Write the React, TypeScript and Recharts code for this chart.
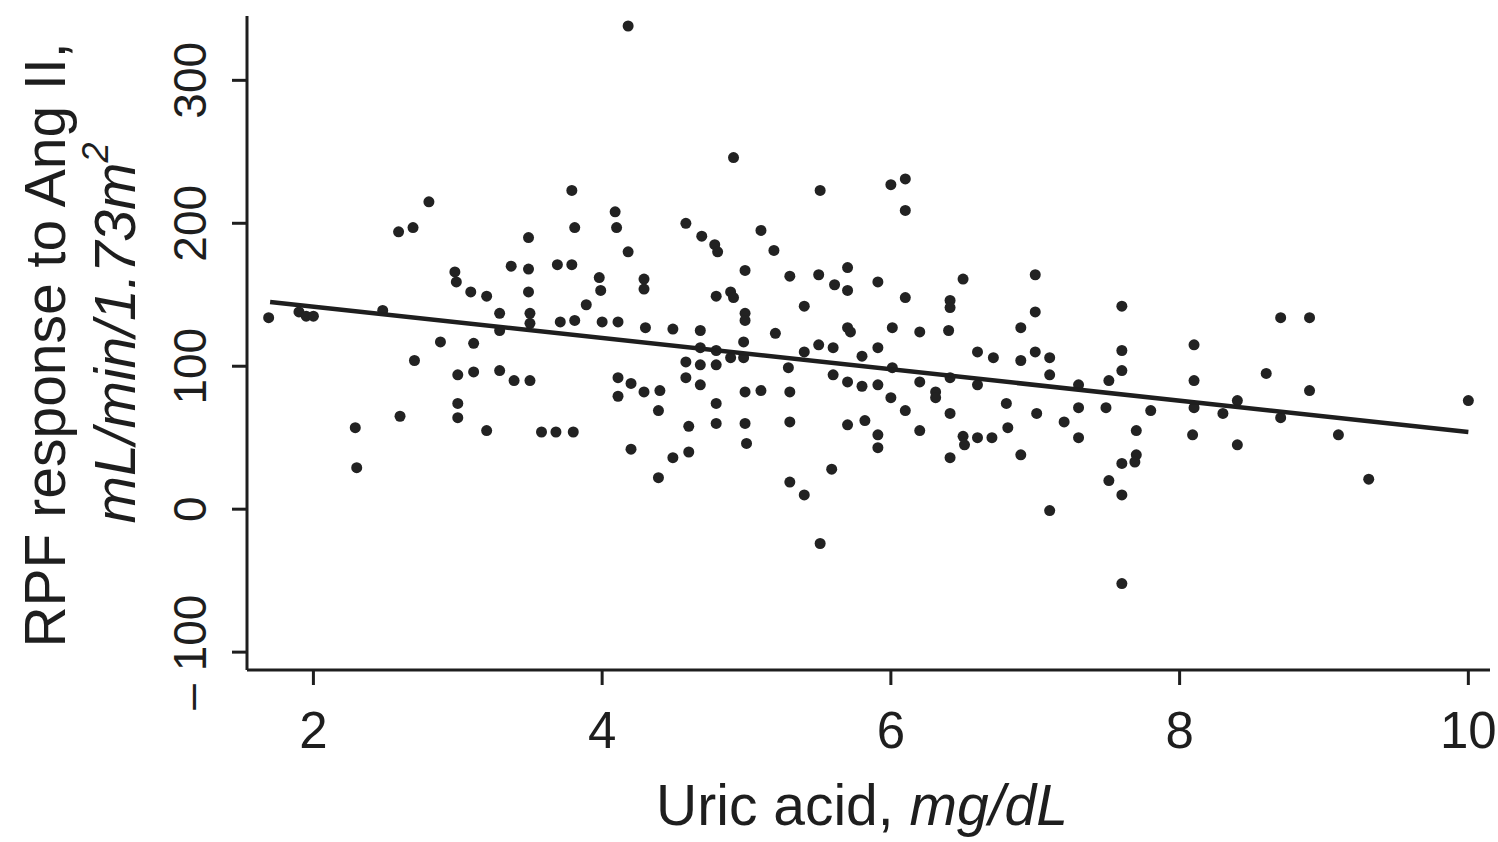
import { ScatterChart, Scatter, XAxis, YAxis, Label } from 'recharts'

// uric acid (mg/dL) for each subject
const uricAcid = [
  1.69, 1.9, 1.95, 2.0, 2.29, 2.3, 2.48, 2.59, 2.6, 2.69, 2.7, 2.8, 2.88, 2.98, 2.99, 3.0, 3.0, 3.0,
  3.09, 3.11, 3.11, 3.2, 3.2, 3.29, 3.29, 3.29, 3.37, 3.39, 3.49, 3.5, 3.49, 3.49, 3.5, 3.5, 3.58, 3.68,
  3.69, 3.71, 3.79, 3.79, 3.8, 3.81, 3.81, 3.89, 3.98, 3.99, 4.0, 4.09, 4.1, 4.11, 4.11, 4.11, 4.18, 4.18,
  4.2, 4.2, 4.29, 4.29, 4.3, 4.29, 4.39, 4.39, 4.4, 4.49, 4.49, 4.58, 4.58, 4.58, 4.6, 4.6, 4.69, 4.68,
  4.68, 4.68, 4.68, 4.78, 4.79, 4.79, 4.79, 4.79, 4.79, 4.8, 4.89, 4.89, 4.91, 4.91, 4.98, 4.98, 4.99, 4.99,
  4.99, 4.99, 4.99, 5.0, 5.1, 5.1, 5.19, 5.2, 5.3, 5.3, 5.3, 5.3, 5.29, 5.4, 5.4, 5.4, 5.51, 5.5,
  5.5, 5.51, 5.59, 5.6, 5.6, 5.61, 5.7, 5.7, 5.7, 5.7, 5.7, 5.72, 5.8, 5.8, 5.82, 5.91, 5.91, 5.91,
  5.91, 5.91, 6.0, 6.0, 6.01, 6.01, 6.1, 6.1, 6.1, 6.1, 6.2, 6.2, 6.2, 6.31, 6.31, 6.41, 6.41, 6.4,
  6.41, 6.41, 6.41, 6.5, 6.5, 6.51, 6.6, 6.6, 6.6, 6.71, 6.7, 6.81, 6.8, 6.9, 6.9, 6.9, 7.0, 7.0,
  7.0, 7.01, 7.1, 7.1, 7.1, 7.2, 7.3, 7.3, 7.3, 7.51, 7.49, 7.51, 7.6, 7.6, 7.6, 7.6, 7.6, 7.6,
  7.7, 7.7, 7.69, 7.8, 8.1, 8.1, 8.1, 8.09, 8.3, 8.4, 8.4, 8.6, 8.7, 8.7, 8.9, 8.9, 9.1, 9.31, 10.0,
]

// RPF response to Ang II (mL/min/1.73m2), same order as uricAcid
const rpfResponse = [
  134, 138, 135, 135, 57, 29, 139, 194, 65, 197, 104, 215, 117, 166, 159, 94, 74, 64,
  152, 96, 116, 149, 55, 137, 97, 125, 170, 90, 190, 90, 168, 152, 137, 130, 54, 54,
  171, 131, 223, 171, 54, 197, 132, 143, 162, 153, 131, 208, 197, 131, 92, 79, 338, 180,
  88, 42, 161, 154, 127, 82, 69, 22, 83, 126, 36, 200, 103, 92, 58, 40, 191, 125,
  113, 101, 87, 185, 149, 111, 101, 74, 60, 180, 152, 106, 246, 148, 117, 106, 82, 60,
  167, 137, 132, 46, 195, 83, 181, 123, 163, 82, 61, 19, 99, 142, 110, 10, 223, 164,
  115, -24, 28, 113, 94, 157, 169, 153, 127, 89, 59, 124, 107, 86, 62, 159, 113, 52,
  43, 87, 227, 78, 99, 127, 231, 209, 148, 69, 89, 55, 124, 82, 78, 146, 141, 125,
  92, 67, 36, 161, 51, 45, 110, 87, 50, 106, 50, 57, 74, 127, 104, 38, 164, 138,
  110, 67, 106, 94, -1, 61, 87, 71, 50, 90, 71, 20, 142, 111, 97, 32, 10, -52,
  55, 38, 33, 69, 115, 90, 71, 52, 67, 76, 45, 95, 134, 64, 134, 83, 52, 21, 76,
]

// fitted regression line endpoints
const fitX = [1.7, 10]
const fitY = [145, 54]

const xTicks = [2, 4, 6, 8, 10]
const yTicks = [-100, 0, 100, 200, 300]

const points = uricAcid.map((x, i) => ({ x, y: rpfResponse[i] }))
const fitLine = fitX.map((x, i) => ({ x, y: fitY[i] }))

const FONT = '"Liberation Sans", Arial, Helvetica, sans-serif'
const INK = '#1e1e1e'

const Dot = (props: any) => <circle cx={props.cx} cy={props.cy} r={5.5} fill="#222" />

const XTick = ({ x, payload }: any) => (
  <text x={x} y={730} textAnchor="middle" dominantBaseline="central" fontSize={51} fill={INK} fontFamily={FONT}>
    {payload.value}
  </text>
)

const YTick = ({ y, payload }: any) => (
  <text
    x={190}
    y={y}
    transform={`rotate(-90 190 ${y})`}
    textAnchor="middle"
    dominantBaseline="central"
    fontSize={46}
    fill={INK}
    fontFamily={FONT}
  >
    {payload.value < 0 ? `\u2013 ${Math.abs(payload.value)}` : payload.value}
  </text>
)

const XTitle = () => (
  <text x={862} y={805} textAnchor="middle" dominantBaseline="central" fontSize={57} fill={INK} fontFamily={FONT}>
    Uric acid, <tspan fontStyle="italic">mg/dL</tspan>
  </text>
)

const YTitle = () => (
  <g fontFamily={FONT} fill={INK} fontSize={57}>
    <text x={45} y={345} transform="rotate(-90 45 345)" textAnchor="middle" dominantBaseline="central">
      RPF response to Ang II,
    </text>
    <text x={115} y={333} transform="rotate(-90 115 333)" textAnchor="middle" dominantBaseline="central" fontStyle="italic">
      mL/min/1.73m<tspan fontSize={36} dy={-20}>2</tspan>
    </text>
  </g>
)

export default function App() {
  return (
    <div style={{ position: 'absolute', left: 0, top: 0, width: 1498, height: 842, background: '#fff' }}>
      <ScatterChart width={1498} height={842} margin={{ top: 16, right: 8, bottom: 0, left: 0 }}>
        <XAxis
          type="number"
          dataKey="x"
          domain={[1.54, 10.15]}
          ticks={xTicks}
          height={172}
          tickSize={15}
          tick={<XTick />}
          axisLine={{ stroke: INK, strokeWidth: 3 }}
          tickLine={{ stroke: INK, strokeWidth: 3 }}
        >
          <Label content={<XTitle />} />
        </XAxis>
        <YAxis
          type="number"
          dataKey="y"
          domain={[-112.5, 345]}
          ticks={yTicks}
          width={247}
          tickSize={15}
          tick={<YTick />}
          axisLine={{ stroke: INK, strokeWidth: 3 }}
          tickLine={{ stroke: INK, strokeWidth: 3 }}
        >
          <Label content={<YTitle />} />
        </YAxis>
        <Scatter data={points} shape={<Dot />} isAnimationActive={false} />
        <Scatter
          data={fitLine}
          line={{ stroke: INK, strokeWidth: 4.5 }}
          shape={() => <g />}
          isAnimationActive={false}
        />
      </ScatterChart>
    </div>
  )
}
